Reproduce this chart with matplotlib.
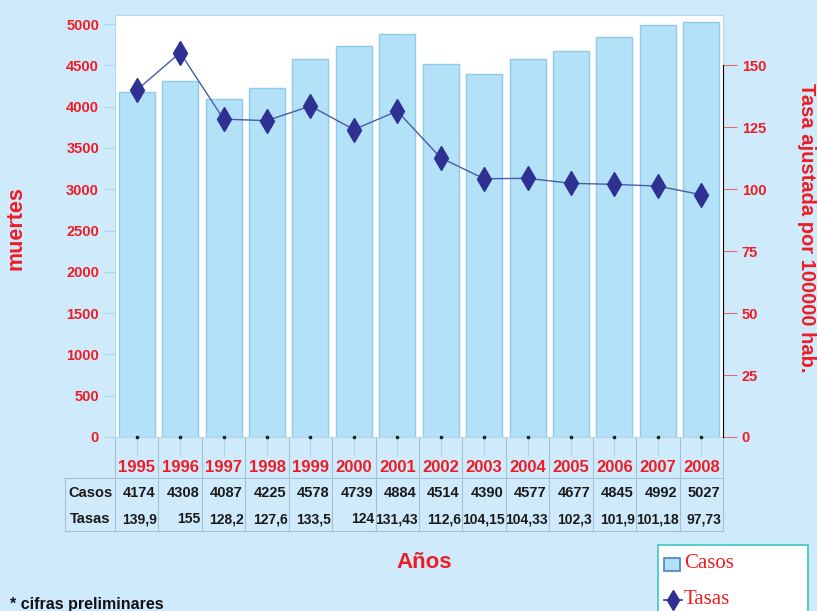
import matplotlib.pyplot as plt
from matplotlib.patches import Rectangle
from matplotlib.lines import Line2D

years = ['1995', '1996', '1997', '1998', '1999', '2000', '2001',
         '2002', '2003', '2004', '2005', '2006', '2007', '2008']
casos = [4174, 4308, 4087, 4225, 4578, 4739, 4884, 4514, 4390, 4577, 4677, 4845, 4992, 5027]
tasas = [139.9, 155, 128.2, 127.6, 133.5, 124, 131.43, 112.6, 104.15, 104.33, 102.3, 101.9, 101.18, 97.73]
tasas_txt = ['139,9', '155', '128,2', '127,6', '133,5', '124', '131,43',
             '112,6', '104,15', '104,33', '102,3', '101,9', '101,18', '97,73']

bg = '#cfebfb'
red = '#ee1c25'
navy = '#2e3192'
plt.rcParams['font.family'] = ['Liberation Sans', 'DejaVu Sans']
plt.rcParams['font.weight'] = 'bold'

fig = plt.figure(figsize=(8.17, 6.11), dpi=100, facecolor=bg)
ax = fig.add_axes([115 / 817, 1 - 437 / 611, 608 / 817, 422 / 611])
ax.set_facecolor('white')
x = list(range(len(years)))

ax.bar(x, casos, width=0.83, color='#b3e2f8', edgecolor='#8ecbe8', linewidth=1, zorder=2)
ax.set_xlim(-0.5, len(years) - 0.5)
ax.set_ylim(0, 5109)
ax.set_yticks(range(0, 5001, 500))
ax.tick_params(axis='y', colors='#a9d8ea', length=8, labelcolor=red, labelsize=10.5)
ax.set_xticks(x)
ax.set_xticklabels([])
ax.tick_params(axis='x', colors='#a9d8ea', length=14, direction='out')
for s in ax.spines.values():
    s.set_color('#b8d6e6')
ax.set_ylabel('muertes', color=red, fontsize=15.5, fontweight='bold')
ax.yaxis.set_label_coords(-0.145, 0.495)

ax2 = ax.twinx()
ax2.plot(x, tasas, color='#4a5aa8', linewidth=1, marker='d', markersize=12,
         markerfacecolor=navy, markeredgecolor=navy, zorder=3)
ax2.set_ylim(0, 170.2)
ax2.set_yticks(range(0, 151, 25))
ax2.tick_params(axis='y', colors='#e07070', length=10, labelcolor=red, labelsize=10.5)
for side in ['top', 'left', 'bottom']:
    ax2.spines[side].set_visible(False)
ax2.spines['right'].set_color('black')
ax2.spines['right'].set_bounds(0, 150)
ax2.set_ylabel('Tasa ajustada por 100000 hab.', color=red, fontsize=14.5,
               fontweight='bold', rotation=-90, va='center')
ax2.yaxis.set_label_coords(1.138, 0.495)

# small dark dots on the x axis at bar centres
ax.plot(x, [0] * len(x), linestyle='', marker='s', markersize=1.5, color='#222222',
        clip_on=False, zorder=5)

# data table under the chart
tr = ax.get_xaxis_transform()
line_c = '#a6c2d2'
def py(p):
    return (437 - p) / 422
x_left = -0.5 - 50 / 43.43
for k in range(len(years) + 1):
    ax.plot([k - 0.5, k - 0.5], [0, py(531)], color=line_c, lw=0.8, transform=tr, clip_on=False)
ax.plot([x_left, x_left], [py(478), py(531)], color=line_c, lw=0.8, transform=tr, clip_on=False)
for yy in [478, 531]:
    ax.plot([x_left, len(years) - 0.5], [py(yy), py(yy)], color=line_c, lw=0.8,
            transform=tr, clip_on=False)
for i, yr in enumerate(years):
    ax.text(i, py(472), yr, color=red, fontsize=12, ha='center', va='baseline', transform=tr)
    ax.text(i + 0.44, py(497), str(casos[i]), color='#1a1a1a', fontsize=10.5,
            ha='right', va='baseline', transform=tr)
    ax.text(i + 0.47, py(523), tasas_txt[i], color='#1a1a1a', fontsize=10,
            ha='right', va='baseline', transform=tr)
ax.text(-1.07, py(497), 'Casos', color='#1a1a1a', fontsize=10.5,
        ha='center', va='baseline', transform=tr)
ax.text(-1.07, py(523), 'Tasas', color='#1a1a1a', fontsize=10.5,
        ha='center', va='baseline', transform=tr)

fig.text(424 / 817, 1 - 562 / 611, 'Años', color=red, fontsize=16,
         ha='center', va='center')
fig.text(10 / 817, 1 - 605 / 611, '* cifras preliminares', color='#111111', fontsize=11.5,
         ha='left', va='center')

# legend box (runs off the bottom edge like the original)
def fx(p):
    return p / 817
def fy(p):
    return 1 - p / 611
fig.add_artist(Rectangle((fx(658), fy(640)), 150 / 817, 95 / 611, transform=fig.transFigure,
                         facecolor='white', edgecolor='#3cc6c0', linewidth=1.2))
fig.add_artist(Rectangle((fx(664), fy(571)), 16 / 817, 13 / 611, transform=fig.transFigure,
                         facecolor='#b3e2f8', edgecolor='#4f7fc0', linewidth=1.2))
fig.add_artist(Line2D([fx(664), fx(682)], [fy(600), fy(600)], transform=fig.transFigure,
                      color=navy, linewidth=1.2))
fig.add_artist(Line2D([fx(673)], [fy(600)], transform=fig.transFigure, marker='d',
                      markersize=10, color=navy, linestyle=''))
fig.text(fx(684), fy(564), 'Casos', color=red, fontsize=15, family='Liberation Serif',
         fontweight='normal', ha='left', va='center')
fig.text(fx(684), fy(600), 'Tasas', color=red, fontsize=15, family='Liberation Serif',
         fontweight='normal', ha='left', va='center')

fig.savefig('out.png', dpi=100, facecolor=bg)
